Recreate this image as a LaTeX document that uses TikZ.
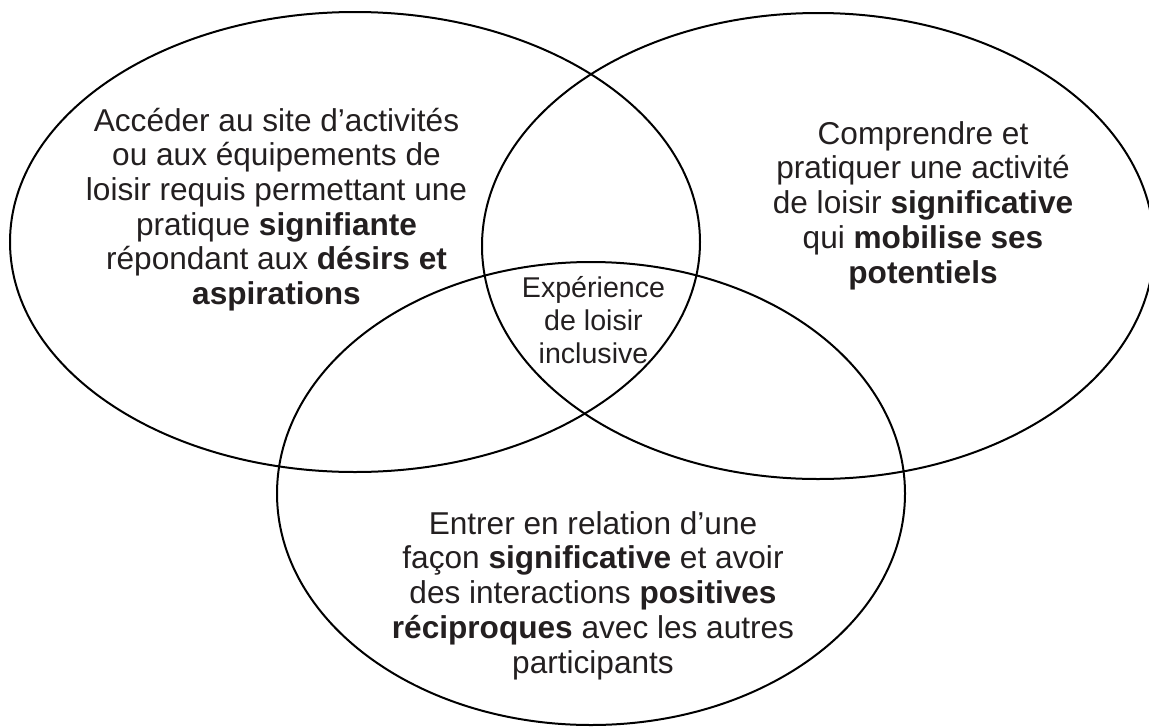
\documentclass[tikz,border=0pt]{standalone}
\usepackage{fontspec}
\setmainfont{Liberation Sans}
\usetikzlibrary{shapes.geometric}
\definecolor{ink}{HTML}{231F20}
\begin{document}
\begin{tikzpicture}[x=1pt,y=-1pt,
  circleset/.style={ellipse, draw=black, line width=2pt, inner sep=0pt},
  bodytext/.style={align=center, inner sep=0pt, anchor=base, text=ink,
    font=\fontsize{31.6}{34.7}\selectfont},
  coretext/.style={align=center, inner sep=0pt, anchor=base, text=ink,
    font=\fontsize{28.6}{33}\selectfont}]
\useasboundingbox (0,0) rectangle (1149,726);
% the three overlapping sets
\node[circleset, minimum width=690pt, minimum height=460pt] (acces) at (355,242) {};
\node[circleset, minimum width=672pt, minimum height=466pt] (pratique) at (818,246) {};
\node[circleset, minimum width=628pt, minimum height=463pt] (relation) at (591,493.5) {};
% labels, each placed by the baseline of its last line
\node[bodytext] (accestxt) at (276.5,304.5)
  {Accéder au site d’activités\\ou aux équipements de\\loisir requis permettant une\\pratique \textbf{signifiante}\\répondant aux \textbf{désirs et}\\\textbf{aspirations}};
\node[bodytext] (pratiquetxt) at (923,283)
  {Comprendre et\\pratiquer une activité\\de loisir \textbf{significative}\\qui \textbf{mobilise ses}\\\textbf{potentiels}};
\node[bodytext] (relationtxt) at (593,673)
  {Entrer en relation d’une\\façon \textbf{significative} et avoir\\des interactions \textbf{positives}\\\textbf{réciproques} avec les autres\\participants};
\node[coretext] (coeur) at (593.5,363)
  {Expérience\\de loisir\\inclusive};
\end{tikzpicture}
\end{document}
